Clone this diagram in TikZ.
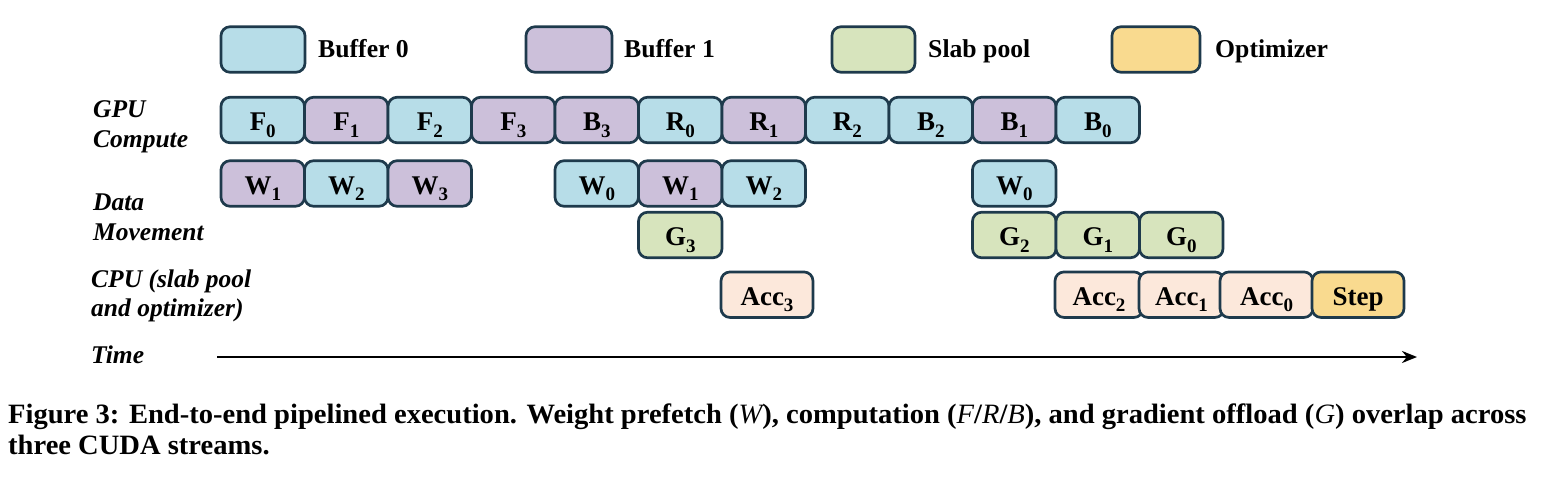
\documentclass[tikz,border=0pt]{standalone}
\usepackage{fontspec}
\setmainfont{Liberation Serif}
\usetikzlibrary{arrows.meta}

% stream colours
\definecolor{bufzero}{HTML}{B7DDE8}
\definecolor{bufone}{HTML}{CCC0DA}
\definecolor{slab}{HTML}{D7E4BD}
\definecolor{optim}{HTML}{F9DA8F}
\definecolor{accum}{HTML}{FCE8DB}
\definecolor{edge}{HTML}{1E3A4C}

% lowered index inside a block label
\newcommand{\lowsub}[1]{\raisebox{-6.5pt}{\fontsize{19}{19}\selectfont #1}}

\begin{document}
\begin{tikzpicture}[x=1pt,y=-1pt,
  blk/.style={draw=edge, line width=2.7pt, rounded corners=9pt,
    minimum height=45.5pt, minimum width=83.5pt, inner sep=0pt,
    text height=21pt, text depth=0pt,
    font=\fontsize{27}{27}\selectfont\bfseries},
  lane/.style={anchor=base west, inner sep=0pt,
    font=\fontsize{25.5}{25.5}\selectfont\bfseries\itshape},
  legtext/.style={anchor=base west, inner sep=0pt,
    font=\fontsize{25.7}{25.7}\selectfont\bfseries},
  captext/.style={anchor=base west, inner sep=0pt,
    font=\fontsize{28}{28}\selectfont\bfseries},
  timeline/.style={line width=2.8pt, -{Stealth[length=15pt,width=12pt]}}]

\useasboundingbox (0,0) rectangle (1544,479);

% legend
\node[blk, fill=bufzero, minimum width=84pt] (lb0) at (263,49.5) {};
\node[legtext] (lb0t) at (318,57) {Buffer 0};
\node[blk, fill=bufone, minimum width=86pt] (lb1) at (569,49.5) {};
\node[legtext] (lb1t) at (624,57) {Buffer 1};
\node[blk, fill=slab, minimum width=83pt] (lsl) at (873.5,49.5) {};
\node[legtext] (lslt) at (928,57) {Slab pool};
\node[blk, fill=optim, minimum width=88pt] (lop) at (1156,49.5) {};
\node[legtext] (lopt) at (1215,57) {Optimizer};

% lane labels
\node[lane] (gpu1) at (93,117) {GPU};
\node[lane] (gpu2) at (93,147) {Compute};
\node[lane] (dm1) at (93,210) {Data};
\node[lane] (dm2) at (93,240) {Movement};
\node[lane] (cpu1) at (91,287) {CPU (slab pool};
\node[lane] (cpu2) at (91,316) {and optimizer)};
\node[lane] (tm) at (91,363) {Time};

% GPU compute stream
\node[blk, fill=bufzero] (f0) at ({262.75+83.5*0},120) {F\lowsub{0}};
\node[blk, fill=bufone]  (f1) at ({262.75+83.5*1},120) {F\lowsub{1}};
\node[blk, fill=bufzero] (f2) at ({262.75+83.5*2},120) {F\lowsub{2}};
\node[blk, fill=bufone]  (f3) at ({262.75+83.5*3},120) {F\lowsub{3}};
\node[blk, fill=bufone]  (b3) at ({262.75+83.5*4},120) {B\lowsub{3}};
\node[blk, fill=bufzero] (r0) at ({262.75+83.5*5},120) {R\lowsub{0}};
\node[blk, fill=bufone]  (r1) at ({262.75+83.5*6},120) {R\lowsub{1}};
\node[blk, fill=bufzero] (r2) at ({262.75+83.5*7},120) {R\lowsub{2}};
\node[blk, fill=bufzero] (b2) at ({262.75+83.5*8},120) {B\lowsub{2}};
\node[blk, fill=bufone]  (b1) at ({262.75+83.5*9},120) {B\lowsub{1}};
\node[blk, fill=bufzero] (b0) at ({262.75+83.5*10},120) {B\lowsub{0}};

% weight prefetch
\node[blk, fill=bufone]  (wa1) at ({262.75+83.5*0},183.5) {W\lowsub{1}};
\node[blk, fill=bufzero] (wa2) at ({262.75+83.5*1},183.5) {W\lowsub{2}};
\node[blk, fill=bufone]  (wa3) at ({262.75+83.5*2},183.5) {W\lowsub{3}};
\node[blk, fill=bufzero] (wb0) at ({262.75+83.5*4},183.5) {W\lowsub{0}};
\node[blk, fill=bufone]  (wb1) at ({262.75+83.5*5},183.5) {W\lowsub{1}};
\node[blk, fill=bufzero] (wb2) at ({262.75+83.5*6},183.5) {W\lowsub{2}};
\node[blk, fill=bufzero] (wc0) at ({262.75+83.5*9},183.5) {W\lowsub{0}};

% gradient offload
\node[blk, fill=slab] (g3) at ({262.75+83.5*5},235) {G\lowsub{3}};
\node[blk, fill=slab] (g2) at ({262.75+83.5*9},235) {G\lowsub{2}};
\node[blk, fill=slab] (g1) at ({262.75+83.5*10},235) {G\lowsub{1}};
\node[blk, fill=slab] (g0) at ({262.75+83.5*11},235) {G\lowsub{0}};

% CPU work
\node[blk, fill=accum, minimum width=92pt] (acc3) at (767,294.7) {Acc\lowsub{3}};
\node[blk, fill=accum, minimum width=88pt] (acc2) at (1099,294.7) {Acc\lowsub{2}};
\node[blk, fill=accum, minimum width=85pt] (acc1) at (1181.5,294.7) {Acc\lowsub{1}};
\node[blk, fill=accum, minimum width=93pt] (acc0) at (1266.5,294.7) {Acc\lowsub{0}};
\node[blk, fill=optim, minimum width=92pt] (step) at (1358,294.7) {Step};

% time axis
\coordinate (t0) at (217,357);
\coordinate (t1) at (1417,357);
\draw[timeline] (t0) -- (t1);

% caption
\node[captext] (cap1) at (8,423) {\scalebox{1.02}[1]{Figure 3: End-to-end pipelined execution. Weight prefetch ({\mdseries\itshape W}), computation ({\mdseries\itshape F}/{\mdseries\itshape R}/{\mdseries\itshape B}), and gradient offload ({\mdseries\itshape G}) overlap across}};
\node[captext] (cap2) at (8,454) {\scalebox{1.02}[1]{three CUDA streams.}};
\end{tikzpicture}
\end{document}
